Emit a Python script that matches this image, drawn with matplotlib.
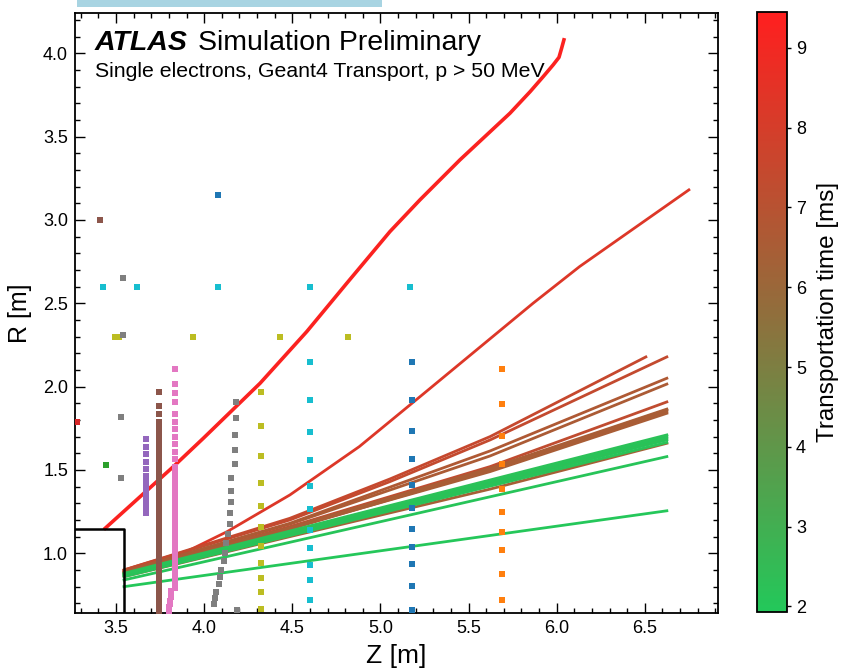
import matplotlib.pyplot as plt
from matplotlib.colors import LinearSegmentedColormap, Normalize
from matplotlib.cm import ScalarMappable
from matplotlib.patches import Rectangle
from matplotlib.ticker import MultipleLocator

plt.rcParams['font.family'] = ['Liberation Sans', 'DejaVu Sans']

# ---- electron tracks: Z [m], R [m], transport time [ms] ----
red_top_z = [3.438, 3.825, 3.995, 4.317, 4.582, 4.809, 5.054, 5.224, 5.451, 5.735, 5.85, 5.924, 5.98, 6.013, 6.028, 6.041]
red_top_r = [1.15, 1.52, 1.69, 2.02, 2.33, 2.62, 2.93, 3.12, 3.36, 3.64, 3.77, 3.86, 3.93, 3.975, 4.03, 4.08]
red_top_t = 9.3

red2_z = [3.545, 3.88, 4.13, 4.486, 4.88, 5.225, 5.866, 6.13, 6.75]
red2_r = [0.89, 1.0, 1.13, 1.35, 1.64, 1.94, 2.50, 2.72, 3.18]
red2_t = 8.3

brown_a_z = [3.545, 4.486, 5.054, 5.622, 6.506]
brown_a_r = [0.90, 1.21, 1.446, 1.70, 2.178]
brown_b_z = [3.545, 4.486, 5.054, 5.622, 6.625]
brown_b_r = [0.90, 1.20, 1.43, 1.68, 2.178]
brown_c_z = [3.545, 4.486, 5.622, 6.625]
brown_c_r = [0.89, 1.18, 1.614, 2.05]
brown_d_z = [3.545, 4.486, 5.622, 6.625]
brown_d_r = [0.89, 1.175, 1.584, 2.015]
brown_e_z = [3.545, 4.486, 5.622, 6.625]
brown_e_r = [0.88, 1.16, 1.52, 1.908]
brown_f1_r = [0.88, 1.15, 1.49, 1.84]
brown_f2_r = [0.875, 1.145, 1.50, 1.85]
brown_f3_r = [0.88, 1.15, 1.505, 1.86]
brown_f4_r = [0.885, 1.155, 1.51, 1.865]
brown_g_r = [0.86, 1.10, 1.385, 1.66]
brown_times = [7.5, 7.4, 6.7, 6.6, 7.3, 6.5, 6.5, 6.5, 6.5, 6.4]

green_z = [3.545, 6.625]
green_bundle_r = [[0.86, 1.665], [0.865, 1.68], [0.87, 1.69], [0.875, 1.70], [0.88, 1.71]]
green_b_r = [0.84, 1.58]
green_c_r = [0.80, 1.255]
green_times = [2.2, 2.1, 2.3, 2.1, 2.2, 2.1, 2.0]

# ---- simulated hits (squares) ----
red_hits_z = [3.279]
red_hits_r = [1.79]
green_hits_z = [3.443]
green_hits_r = [1.53]
blue_hits_z = [4.079, 5.179, 5.179, 5.179, 5.179, 5.179, 5.179, 5.179, 5.179, 5.179, 5.179, 5.179]
blue_hits_r = [3.15, 2.148, 1.92, 1.735, 1.566, 1.41, 1.272, 1.146, 1.038, 0.936, 0.804, 0.66]
cyan_hits_z = [3.423, 3.616, 4.08, 4.60, 5.17, 4.60, 4.60, 4.60, 4.60, 4.60, 4.60, 4.60, 4.60, 4.60, 4.60, 4.60]
cyan_hits_r = [2.60, 2.60, 2.60, 2.60, 2.60, 2.148, 1.92, 1.73, 1.56, 1.404, 1.266, 1.14, 1.032, 0.93, 0.84, 0.72]
orange_hits_z = [5.687] * 10
orange_hits_r = [2.106, 1.896, 1.704, 1.536, 1.386, 1.248, 1.128, 1.02, 0.876, 0.72]
olive_hits_z = [3.494, 3.517, 3.937, 4.43, 4.816] + [4.321] * 11
olive_hits_r = [2.30, 2.30, 2.30, 2.30, 2.30,
                1.968, 1.764, 1.584, 1.422, 1.284, 1.158, 1.044, 0.942, 0.852, 0.768, 0.664]
gray_hits_z = [3.54, 3.54, 3.528, 3.528,
               4.181, 4.181, 4.175, 4.175, 4.175, 4.152, 4.152, 4.152, 4.147, 4.147, 4.135,
               4.124, 4.118, 4.113, 4.096, 4.09, 4.084, 4.067, 4.062, 4.056, 4.186]
gray_hits_r = [2.65, 2.31, 1.82, 1.45,
               1.908, 1.812, 1.71, 1.62, 1.536, 1.452, 1.374, 1.308, 1.242, 1.176, 1.116,
               1.062, 1.002, 0.954, 0.90, 0.858, 0.816, 0.768, 0.732, 0.696, 0.66]
purple_hits_r = [1.684, 1.64, 1.594, 1.55, 1.506, 1.466, 1.426, 1.39, 1.356, 1.324, 1.296, 1.268, 1.244]
purple_z = 3.667
brown_hits_single = (3.41, 3.00)
brown_col_z = 3.746
brown_col_r = [1.97, 1.885, 1.836, 1.79, 1.765, 1.74, 1.715, 1.69, 1.665, 1.64, 1.615, 1.59, 1.565,
               1.54, 1.515, 1.49, 1.465, 1.44, 1.415, 1.39, 1.365, 1.34, 1.315, 1.29, 1.265, 1.24,
               1.215, 1.19, 1.165, 1.14, 1.115, 1.09, 1.065, 1.04, 1.015, 0.99, 0.965, 0.94, 0.915,
               0.89, 0.865, 0.84, 0.815, 0.79, 0.765, 0.74, 0.715, 0.69, 0.665, 0.645]
pink_col_z = 3.832
pink_col_r = [2.106, 2.016, 1.962, 1.908, 1.836, 1.788, 1.746, 1.70, 1.655, 1.61, 1.565, 1.52, 1.48,
              1.445, 1.41, 1.375, 1.34, 1.31, 1.285, 1.26, 1.235, 1.21, 1.185, 1.16, 1.135, 1.11,
              1.085, 1.06, 1.035, 1.01, 0.985, 0.96, 0.935, 0.91, 0.885, 0.86, 0.835, 0.81, 0.79]
pink_low_z = [3.813, 3.811, 3.809, 3.807, 3.805, 3.803, 3.801, 3.80]
pink_low_r = [0.775, 0.755, 0.735, 0.715, 0.695, 0.675, 0.655, 0.635]

cmap = LinearSegmentedColormap.from_list('transport', ['#23c85a', '#916e3c', '#ff1f1f'])
norm = Normalize(vmin=1.93, vmax=9.45)

fig = plt.figure(figsize=(8.41, 6.70), dpi=100)
ax = fig.add_axes([0.0892, 0.0851, 0.7645, 0.8955])
cax = fig.add_axes([0.900, 0.0866, 0.0357, 0.8955])

# tracks
ax.plot(red_top_z, red_top_r, color=cmap(norm(red_top_t)), lw=2.6, zorder=2, solid_joinstyle='round')
ax.plot(red2_z, red2_r, color=cmap(norm(red2_t)), lw=2.0, zorder=2, solid_joinstyle='round')
brown_tracks = [(brown_a_z, brown_a_r), (brown_b_z, brown_b_r), (brown_c_z, brown_c_r),
                (brown_d_z, brown_d_r), (brown_e_z, brown_e_r), (brown_e_z, brown_f1_r),
                (brown_e_z, brown_f2_r), (brown_e_z, brown_f3_r), (brown_e_z, brown_f4_r),
                (brown_e_z, brown_g_r)]
green_tracks = green_bundle_r + [green_b_r, green_c_r]
for (z, r), t in zip(brown_tracks, brown_times):
    ax.plot(z, r, color=cmap(norm(t)), lw=2.0, zorder=2)
for r, t in zip(green_tracks, green_times):
    ax.plot(green_z, r, color=cmap(norm(t)), lw=2.0, zorder=2)

# hits
ms = 18.5
ax.scatter(red_hits_z, red_hits_r, marker='s', s=ms, color='tab:red', lw=0, zorder=3)
ax.scatter(green_hits_z, green_hits_r, marker='s', s=ms, color='tab:green', lw=0, zorder=3)
ax.scatter(blue_hits_z, blue_hits_r, marker='s', s=ms, color='tab:blue', lw=0, zorder=3)
ax.scatter(cyan_hits_z, cyan_hits_r, marker='s', s=ms, color='tab:cyan', lw=0, zorder=3)
ax.scatter(orange_hits_z, orange_hits_r, marker='s', s=ms, color='tab:orange', lw=0, zorder=3)
ax.scatter(olive_hits_z, olive_hits_r, marker='s', s=ms, color='tab:olive', lw=0, zorder=3)
ax.scatter(gray_hits_z, gray_hits_r, marker='s', s=ms, color='tab:gray', lw=0, zorder=3)
ax.scatter([purple_z] * len(purple_hits_r), purple_hits_r, marker='s', s=ms, color='tab:purple', lw=0, zorder=3)
ax.scatter([brown_hits_single[0]], [brown_hits_single[1]], marker='s', s=ms, color='tab:brown', lw=0, zorder=3)
ax.scatter([brown_col_z] * len(brown_col_r), brown_col_r, marker='s', s=ms, color='tab:brown', lw=0, zorder=3)
ax.scatter([pink_col_z] * len(pink_col_r), pink_col_r, marker='s', s=ms, color='tab:pink', lw=0, zorder=3)
ax.scatter(pink_low_z, pink_low_r, marker='s', s=ms, color='tab:pink', lw=0, zorder=3)

# calorimeter boundary
ax.plot([3.2, 3.545, 3.545], [1.146, 1.146, 0.5], color='black', lw=1.8, zorder=4)

ax.set_xlim(3.267, 6.915)
ax.set_ylim(0.642, 4.241)
ax.xaxis.set_major_locator(MultipleLocator(0.5))
ax.yaxis.set_major_locator(MultipleLocator(0.5))
ax.xaxis.set_minor_locator(MultipleLocator(0.1))
ax.yaxis.set_minor_locator(MultipleLocator(0.1))
ax.tick_params(which='both', direction='in', top=True, right=True, labelsize=13, pad=5, width=1.0)
ax.tick_params(which='major', length=7)
ax.tick_params(which='minor', length=3.5)
for sp in ax.spines.values():
    sp.set_linewidth(1.3)
ax.set_xlabel('Z [m]', fontsize=19, labelpad=5)
ax.set_ylabel('R [m]', fontsize=18, labelpad=8)

fig.text(0.113, 0.926, 'ATLAS', fontsize=20.5, fontweight='bold', fontstyle='italic', va='baseline')
fig.text(0.2354, 0.926, 'Simulation Preliminary', fontsize=20.5, va='baseline')
fig.text(0.113, 0.885, 'Single electrons, Geant4 Transport, p > 50 MeV', fontsize=15.3, va='baseline')

cb = fig.colorbar(ScalarMappable(norm=norm, cmap=cmap), cax=cax, ticks=[2, 3, 4, 5, 6, 7, 8, 9])
cb.ax.tick_params(direction='out', length=3, labelsize=13, width=1.0)
cb.outline.set_linewidth(1.3)
cb.set_label('Transportation time [ms]', fontsize=17.5, labelpad=8)

fig.patches.append(Rectangle((0.0916, 0.9896), 0.3627, 0.0104, transform=fig.transFigure,
                             facecolor='#a8d4e2', edgecolor='none'))

fig.savefig('out.png', dpi=100)
